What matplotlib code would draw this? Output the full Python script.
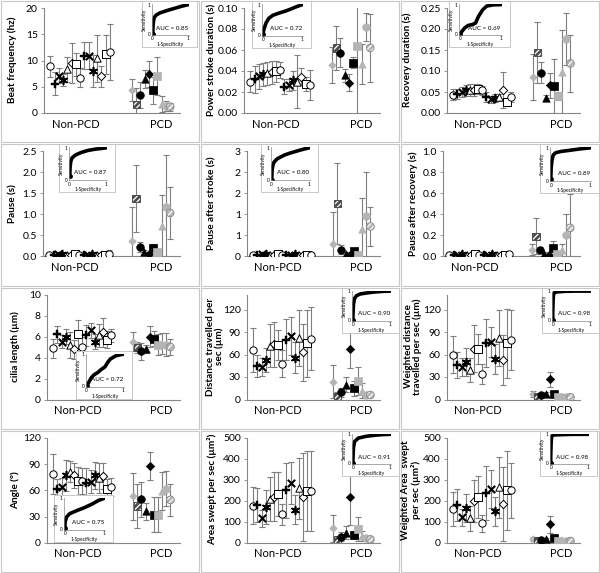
import matplotlib.pyplot as plt
from matplotlib.patches import Rectangle

plt.rcParams['font.family'] = ['Lato', 'DejaVu Sans']

W, H = 600, 573
PW, PH = 200, 573 / 4.0

grey_bar = '#7f7f7f'
axis_grey = '#868686'
light = '#b4b4b4'
dark_hatch = '#4d4d4d'

# ---------------- data (mean, sd per subject) ----------------
beat_np = [8.9, 5.6, 7.1, 6.3, 8.3, 9.5, 9.3, 6.7, 10.9, 10.9, 8.0, 10.4, 7.0, 11.2, 11.6]
beat_np_sd = [2.0, 2.2, 1.4, 1.2, 2.4, 3.8, 2.2, 1.8, 2.6, 2.6, 3.0, 4.5, 2.0, 3.7, 5.3]
beat_pcd = [4.3, 1.6, 3.4, 6.4, 7.4, 4.3, 7.1, 1.7, 1.3, 1.2]
beat_pcd_sd = [2.1, 3.1, 2.5, 1.7, 2.5, 2.5, 3.6, 1.5, 1.0, 0.8]
beat_fpr = [0, 0.01, 0.03, 0.05, 0.1, 0.2, 0.4, 0.6, 0.8, 0.9, 1.0]
beat_tpr = [0, 0.3, 0.5, 0.58, 0.65, 0.72, 0.8, 0.87, 0.94, 0.97, 1.0]

stroke_np = [0.030, 0.032, 0.035, 0.037, 0.038, 0.039, 0.040, 0.041, 0.025, 0.0265, 0.031, 0.030, 0.0345, 0.0275, 0.0265]
stroke_np_sd = [0.010, 0.013, 0.012, 0.011, 0.011, 0.011, 0.010, 0.008, 0.007, 0.006, 0.009, 0.025, 0.008, 0.007, 0.014]
stroke_pcd = [0.046, 0.062, 0.0575, 0.036, 0.029, 0.048, 0.064, 0.047, 0.082, 0.062]
stroke_pcd_sd = [0.017, 0.021, 0.014, 0.006, 0.008, 0.005, 0.07, 0.019, 0.013, 0.032]
stroke_fpr = [0, 0.03, 0.08, 0.15, 0.25, 0.4, 0.55, 0.7, 0.85, 1.0]
stroke_tpr = [0.05, 0.2, 0.4, 0.55, 0.65, 0.72, 0.78, 0.85, 0.93, 1.0]

recov_np = [0.044, 0.046, 0.050, 0.054, 0.054, 0.054, 0.057, 0.054, 0.038, 0.033, 0.036, 0.037, 0.054, 0.026, 0.038]
recov_np_sd = [0.012, 0.012, 0.012, 0.013, 0.014, 0.014, 0.012, 0.010, 0.012, 0.008, 0.010, 0.008, 0.043, 0.010, 0.012]
recov_pcd = [0.086, 0.144, 0.096, 0.036, 0.066, 0.065, 0.041, 0.098, 0.176, 0.118]
recov_pcd_sd = [0.055, 0.072, 0.025, 0.006, 0.030, 0.064, 0.010, 0.100, 0.062, 0.067]
recov_fpr = [0, 0.05, 0.12, 0.2, 0.3, 0.38, 0.45, 0.55, 0.65, 0.8, 1.0]
recov_tpr = [0, 0.1, 0.22, 0.3, 0.33, 0.38, 0.6, 0.82, 0.95, 0.99, 1.0]

pause_np = [0.03, 0.03, 0.05, 0.06, 0.04, 0.04, 0.05, 0.04, 0.04, 0.04, 0.06, 0.04, 0.03, 0.04, 0.05]
pause_np_sd = [0.03, 0.02, 0.04, 0.05, 0.03, 0.03, 0.04, 0.03, 0.03, 0.03, 0.05, 0.03, 0.03, 0.03, 0.10]
pause_pcd = [0.37, 1.38, 0.21, 0.10, 0.05, 0.20, 0.11, 0.71, 1.17, 1.03]
pause_pcd_sd = [0.80, 0.80, 0.12, 0.05, 0.03, 0.08, 0.05, 0.75, 1.23, 0.62]
pause_fpr = [0, 0.01, 0.03, 0.06, 0.15, 0.3, 0.5, 0.7, 0.85, 1.0]
pause_tpr = [0.1, 0.4, 0.58, 0.68, 0.77, 0.85, 0.92, 0.96, 0.98, 1.0]

pstroke_np = [0.03, 0.03, 0.05, 0.06, 0.04, 0.04, 0.05, 0.04, 0.04, 0.04, 0.06, 0.04, 0.03, 0.04, 0.04]
pstroke_np_sd = [0.03, 0.02, 0.04, 0.05, 0.03, 0.03, 0.04, 0.03, 0.03, 0.03, 0.05, 0.03, 0.03, 0.03, 0.04]
pstroke_pcd = [0.29, 1.25, 0.16, 0.05, 0.03, 0.13, 0.04, 0.65, 0.95, 0.71]
pstroke_pcd_sd = [0.77, 0.97, 0.10, 0.04, 0.02, 0.03, 0.03, 0.74, 1.05, 0.47]
pstroke_fpr = [0, 0.01, 0.03, 0.06, 0.15, 0.35, 0.5, 0.7, 0.85, 1.0]
pstroke_tpr = [0, 0.3, 0.45, 0.55, 0.66, 0.78, 0.84, 0.91, 0.96, 1.0]

precov_np = [0.01, 0.01, 0.015, 0.02, 0.015, 0.015, 0.02, 0.015, 0.01, 0.01, 0.02, 0.01, 0.01, 0.015, 0.02]
precov_np_sd = [0.01, 0.01, 0.01, 0.015, 0.01, 0.01, 0.01, 0.01, 0.01, 0.01, 0.015, 0.01, 0.01, 0.01, 0.01]
precov_pcd = [0.064, 0.19, 0.06, 0.02, 0.01, 0.08, 0.02, 0.055, 0.20, 0.27]
precov_pcd_sd = [0.055, 0.17, 0.03, 0.02, 0.01, 0.07, 0.02, 0.06, 0.20, 0.32]
precov_fpr = [0, 0.01, 0.03, 0.06, 0.12, 0.25, 0.5, 0.75, 0.9, 1.0]
precov_tpr = [0.05, 0.4, 0.62, 0.78, 0.85, 0.89, 0.93, 0.97, 0.99, 1.0]

cilia_np = [4.9, 6.2, 5.5, 6.0, 5.2, 4.8, 6.2, 5.0, 6.1, 6.6, 5.5, 6.1, 6.4, 5.7, 6.1]
cilia_np_sd = [0.9, 0.8, 0.6, 0.7, 1.2, 0.9, 1.4, 1.0, 1.0, 0.7, 0.7, 1.1, 1.4, 0.8, 0.6]
cilia_pcd = [5.5, 4.95, 4.6, 4.8, 6.0, 5.8, 5.2, 5.3, 5.2, 5.0]
cilia_pcd_sd = [0.9, 0.5, 0.8, 0.4, 1.0, 0.7, 1.0, 1.0, 1.1, 0.8]
cilia_fpr = [0, 0.05, 0.12, 0.2, 0.3, 0.4, 0.5, 0.58, 0.65, 0.8, 1.0]
cilia_tpr = [0, 0.1, 0.25, 0.35, 0.42, 0.52, 0.6, 0.75, 0.85, 0.95, 1.0]

dist_np = [66, 45, 44, 53, 72, 74, 73, 48, 80, 85, 56, 82, 63, 75, 81]
dist_np_sd = [29, 15, 12, 16, 29, 30, 20, 18, 27, 25, 21, 37, 38, 45, 42]
dist_pcd = [24, 4, 10, 20, 68, 15, 25, 12, 6, 6]
dist_pcd_sd = [22, 6, 6, 10, 26, 10, 19, 10, 4, 3]
dist_fpr = [0, 0.01, 0.02, 0.05, 0.1, 0.2, 0.4, 0.6, 0.8, 1.0]
dist_tpr = [0, 0.3, 0.55, 0.75, 0.84, 0.9, 0.94, 0.97, 0.99, 1.0]

wdist_np = [60, 46, 44, 50, 40, 68, 68, 34, 76, 77, 54, 82, 53, 75, 80]
wdist_np_sd = [25, 17, 12, 19, 16, 31, 20, 13, 32, 20, 20, 37, 33, 46, 40]
wdist_pcd = [8, 4, 6, 7, 27, 8, 4, 4, 3, 3]
wdist_pcd_sd = [4, 3, 3, 3, 10, 3, 3, 3, 2, 2]
wdist_fpr = [0, 0, 0.01, 0.02, 0.05, 0.1, 0.3, 0.6, 1.0]
wdist_tpr = [0, 0.25, 0.7, 0.88, 0.95, 0.97, 0.99, 1.0, 1.0]

angle_np = [79, 61, 64, 77, 81, 77, 71, 71, 68, 70, 77, 74, 76, 61, 64]
angle_np_sd = [23, 12, 10, 18, 12, 14, 16, 15, 17, 13, 15, 17, 15, 12, 10]
angle_pcd = [53, 42, 50, 36, 88, 32, 32, 59, 62, 49]
angle_pcd_sd = [27, 25, 20, 10, 16, 20, 20, 22, 20, 18]
angle_fpr = [0, 0.01, 0.05, 0.12, 0.3, 0.5, 0.7, 0.85, 1.0]
angle_tpr = [0.05, 0.25, 0.4, 0.5, 0.6, 0.7, 0.82, 0.93, 1.0]

area_np = [177, 180, 117, 170, 209, 220, 232, 136, 249, 284, 157, 260, 216, 245, 248]
area_np_sd = [90, 80, 40, 80, 105, 115, 105, 50, 130, 100, 70, 145, 210, 190, 190]
area_pcd = [69, 13, 29, 48, 217, 37, 64, 32, 21, 16]
area_pcd_sd = [64, 10, 20, 30, 134, 20, 57, 25, 10, 10]
area_fpr = [0, 0.01, 0.02, 0.05, 0.15, 0.35, 0.6, 0.8, 1.0]
area_tpr = [0, 0.3, 0.55, 0.75, 0.87, 0.93, 0.97, 0.99, 1.0]

warea_np = [160, 180, 121, 165, 117, 200, 220, 93, 236, 256, 149, 265, 185, 249, 249]
warea_np_sd = [80, 75, 40, 65, 60, 100, 100, 40, 130, 90, 70, 145, 175, 190, 130]
warea_pcd = [18, 8, 13, 16, 88, 21, 8, 13, 8, 8]
warea_pcd_sd = [10, 5, 5, 5, 40, 5, 5, 5, 5, 5]
warea_fpr = [0, 0, 0.01, 0.02, 0.05, 0.1, 0.3, 0.6, 1.0]
warea_tpr = [0, 0.25, 0.7, 0.9, 0.96, 0.98, 0.99, 1.0, 1.0]

ylabels = ['Beat frequency (hz)', 'Power stroke duration (s)', 'Recovery duration (s)',
           'Pause (s)', 'Pause after stroke (s)', 'Pause after recovery (s)',
           'cilia length (µm)', 'Distance travelled per\nsec (µm)', 'Weighted distance\ntravelled per sec (µm)',
           'Angle (°)', 'Area swept per sec (µm²)', 'Weighted Area  swept\nper sec (µm²)']
aucs = [0.85, 0.72, 0.69, 0.87, 0.80, 0.89, 0.72, 0.90, 0.98, 0.75, 0.91, 0.98]
yticks = [[0, 5, 10, 15, 20], [0, 0.02, 0.04, 0.06, 0.08, 0.10], [0, 0.05, 0.10, 0.15, 0.20, 0.25],
          [0, 0.5, 1.0, 1.5, 2.0, 2.5], [0, 0.5, 1.0, 1.5, 2.0, 2.5], [0, 0.2, 0.4, 0.6, 0.8, 1.0],
          [0, 2, 4, 6, 8, 10], [0, 30, 60, 90, 120], [0, 30, 60, 90, 120],
          [0, 30, 60, 90, 120], [0, 100, 200, 300, 400, 500], [0, 100, 200, 300, 400, 500]]
ytick_labels = [['0', '5', '10', '15', '20'], ['0.00', '0.02', '0.04', '0.06', '0.08', '0.10'],
                ['0.00', '0.05', '0.10', '0.15', '0.20', '0.25'], ['0.0', '0.5', '1.0', '1.5', '2.0', '2.5'],
                ['0', '1', '1', '2', '2', '3'], ['0.0', '0.2', '0.4', '0.6', '0.8', '1.0'],
                ['0', '2', '4', '6', '8', '10'], ['0', '30', '60', '90', '120'], ['0', '30', '60', '90', '120'],
                ['0', '30', '60', '90', '120'], ['0', '100', '200', '300', '400', '500'],
                ['0', '100', '200', '300', '400', '500']]
ytops = [20, 0.10, 0.25, 2.5, 2.5, 1.0, 10, 140, 140, 120, 500, 500]

panels = [
    (beat_np, beat_np_sd, beat_pcd, beat_pcd_sd, beat_fpr, beat_tpr),
    (stroke_np, stroke_np_sd, stroke_pcd, stroke_pcd_sd, stroke_fpr, stroke_tpr),
    (recov_np, recov_np_sd, recov_pcd, recov_pcd_sd, recov_fpr, recov_tpr),
    (pause_np, pause_np_sd, pause_pcd, pause_pcd_sd, pause_fpr, pause_tpr),
    (pstroke_np, pstroke_np_sd, pstroke_pcd, pstroke_pcd_sd, pstroke_fpr, pstroke_tpr),
    (precov_np, precov_np_sd, precov_pcd, precov_pcd_sd, precov_fpr, precov_tpr),
    (cilia_np, cilia_np_sd, cilia_pcd, cilia_pcd_sd, cilia_fpr, cilia_tpr),
    (dist_np, dist_np_sd, dist_pcd, dist_pcd_sd, dist_fpr, dist_tpr),
    (wdist_np, wdist_np_sd, wdist_pcd, wdist_pcd_sd, wdist_fpr, wdist_tpr),
    (angle_np, angle_np_sd, angle_pcd, angle_pcd_sd, angle_fpr, angle_tpr),
    (area_np, area_np_sd, area_pcd, area_pcd_sd, area_fpr, area_tpr),
    (warea_np, warea_np_sd, warea_pcd, warea_pcd_sd, warea_fpr, warea_tpr),
]

# layout in panel pixels
axis_left = [44, 44, 47, 43, 47, 43, 47, 47, 47, 47, 47, 47]
label_x = [12, 12, 7, 13, 12, 13, 15, 15, 13, 15, 12, 11]
inset_box = [(142, 1, 197, 47), (52, 1, 111, 48), (49, 1, 110, 47),
             (59, 1, 115, 49), (61, 1, 118, 49), (140, 1, 199, 50),
             (76, 64, 132, 112), (142, 1, 199, 46), (142, 1, 199, 46),
             (54, 65, 113, 112), (142, 1, 199, 46), (140, 1, 197, 46)]

# marker styles
np_styles = [
    dict(marker='o', s=28, fc='white', ec='black', lw=0.7),
    dict(marker='P', s=28, fc='black', ec='black', lw=0.3),
    dict(marker='x', s=28, fc='black', ec='black', lw=1.5),
    dict(marker=(6, 2, 0), s=32, fc='black', ec='black', lw=1.2),
    dict(marker='^', s=28, fc='white', ec='black', lw=0.7),
    dict(marker='D', s=18, fc='white', ec='black', lw=0.7),
    dict(marker='s', s=26, fc='white', ec='black', lw=0.7),
]
pcd_styles = [
    dict(marker='D', s=14, fc=light, ec=light, lw=0.5, hatch=None),
    dict(marker='s', s=28, fc=dark_hatch, ec=dark_hatch, lw=0.7, hatch='//////'),
    dict(marker='o', s=30, fc='black', ec='black', lw=0.5, hatch=None),
    dict(marker='^', s=28, fc='black', ec='black', lw=0.5, hatch=None),
    dict(marker='D', s=18, fc='black', ec='black', lw=0.5, hatch=None),
    dict(marker='s', s=30, fc='black', ec='black', lw=0.5, hatch=None),
    dict(marker='s', s=30, fc=light, ec=light, lw=0.5, hatch=None),
    dict(marker='^', s=28, fc=light, ec=light, lw=0.5, hatch=None),
    dict(marker='o', s=30, fc=light, ec=light, lw=0.5, hatch=None),
    dict(marker='o', s=30, fc=light, ec='#8c8c8c', lw=0.7, hatch='//////'),
]

plt.rcParams['hatch.linewidth'] = 0.9

x_np = [1.5 + i for i in range(15)]
x_pcd = [20.7 + i for i in range(10)]

fig = plt.figure(figsize=(W / 100, H / 100), dpi=100)


def frac(col, row, x0, y0, x1, y1):
    px0, py0 = col * PW, row * PH
    return [(px0 + x0) / W, 1 - (py0 + y1) / H, (x1 - x0) / W, (y1 - y0) / H]


for k, (vnp, snp, vpcd, spcd, fpr, tpr) in enumerate(panels):
    row, col = divmod(k, 3)
    # panel frame
    fig.add_artist(Rectangle(((col * PW + 1) / W, 1 - (row * PH + PH - 1) / H), (PW - 2) / W, (PH - 2) / H,
                             transform=fig.transFigure, fill=False, ec='#c8c8c8', lw=0.8))
    ax = fig.add_axes(frac(col, row, axis_left[k], 8, 180, 113))
    ax.set_xlim(0, 32)
    ax.set_ylim(0, ytops[k])
    ax.errorbar(x_np, vnp, yerr=snp, fmt='none', ecolor=grey_bar, elinewidth=0.8, capsize=2, capthick=0.8, zorder=2)
    ax.errorbar(x_pcd, vpcd, yerr=spcd, fmt='none', ecolor=grey_bar, elinewidth=0.8, capsize=2, capthick=0.8, zorder=2)
    for i in range(15):
        st = np_styles[i % 7]
        ax.scatter([x_np[i]], [vnp[i]], marker=st['marker'], s=st['s'], facecolors=st['fc'],
                   edgecolors=st['ec'], linewidths=st['lw'], zorder=3)
    for i in range(10):
        st = pcd_styles[i]
        if st['hatch']:
            ax.scatter([x_pcd[i]], [vpcd[i]], marker=st['marker'], s=st['s'], facecolors=st['fc'],
                       edgecolors='white', linewidths=0, hatch=st['hatch'], zorder=3)
            ax.scatter([x_pcd[i]], [vpcd[i]], marker=st['marker'], s=st['s'], facecolors='none',
                       edgecolors=st['ec'], linewidths=st['lw'], zorder=3)
        else:
            ax.scatter([x_pcd[i]], [vpcd[i]], marker=st['marker'], s=st['s'], facecolors=st['fc'],
                       edgecolors=st['ec'], linewidths=st['lw'], zorder=3)
    for side in ['top', 'right']:
        ax.spines[side].set_visible(False)
    for side in ['left', 'bottom']:
        ax.spines[side].set_color(axis_grey)
        ax.spines[side].set_linewidth(0.8)
    ax.set_yticks(yticks[k])
    ax.set_yticklabels(ytick_labels[k], fontsize=7.5)
    ax.set_xticks([7.5, 27.5])
    ax.set_xticklabels(['Non-PCD', 'PCD'], fontsize=8)
    ax.tick_params(axis='x', length=0, pad=4)
    ax.tick_params(axis='y', length=2.5, width=0.6, color=axis_grey, pad=2)
    fig.text((col * PW + label_x[k]) / W, 1 - (row * PH + 60) / H, ylabels[k], rotation=90,
             ha='center', va='center', fontsize=7.2, fontweight='bold', linespacing=1.05)

    # ROC inset
    bx0, by0, bx1, by1 = inset_box[k]
    box = fig.add_axes(frac(col, row, bx0, by0, bx1, by1))
    box.set_xticks([])
    box.set_yticks([])
    box.set_facecolor('white')
    for sp in box.spines.values():
        sp.set_color('#c8c8c8')
        sp.set_linewidth(0.7)
    box.set_zorder(5)
    ins = fig.add_axes(frac(col, row, bx0 + 10, by0 + 3, bx1 - 8, by1 - 12))
    ins.set_zorder(6)
    ins.patch.set_alpha(0)
    ins.plot(fpr, tpr, color='black', lw=2.6, solid_capstyle='round', solid_joinstyle='round')
    ins.plot([fpr[0]], [tpr[0]], 'o', color='black', ms=2.5)
    ins.set_xlim(-0.02, 1.02)
    ins.set_ylim(-0.02, 1.02)
    ins.set_xticks([0, 1])
    ins.set_yticks([0, 1])
    ins.tick_params(labelsize=3.5, length=0, pad=1)
    for side in ['top', 'right']:
        ins.spines[side].set_visible(False)
    for side in ['left', 'bottom']:
        ins.spines[side].set_color(axis_grey)
        ins.spines[side].set_linewidth(0.5)
    ins.set_xlabel('1-Specificity', fontsize=3.5, labelpad=0.5)
    ins.set_ylabel('Sensitivity', fontsize=3.5, labelpad=0.5)
    ins.text(0.97, 0.22, 'AUC = %.2f' % aucs[k], fontsize=4.5, ha='right', va='center',
             transform=ins.transAxes)

fig.savefig('out.png', dpi=100)
